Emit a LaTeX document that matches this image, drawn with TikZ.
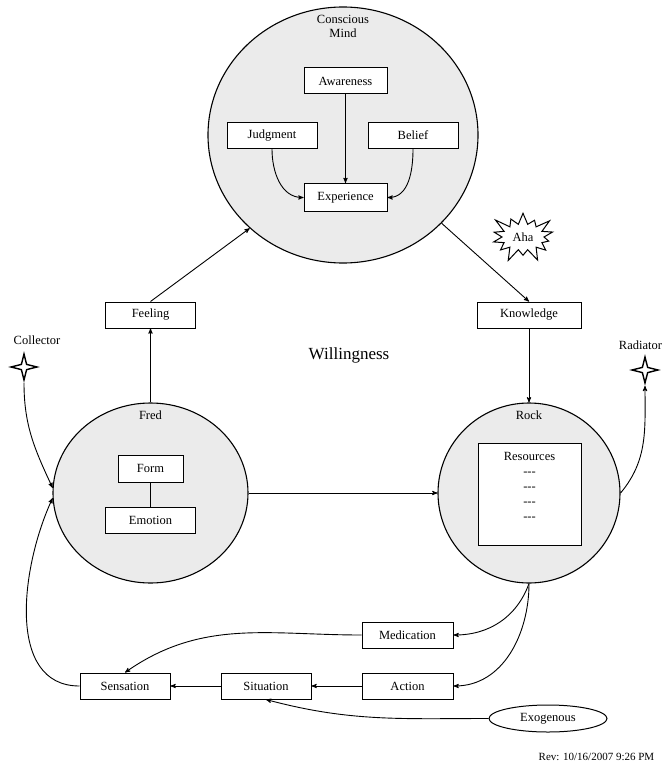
\documentclass[tikz,border=0pt]{standalone}
\usepackage{fontspec}
\setmainfont{Liberation Serif}
\usetikzlibrary{positioning,shapes,arrows}

\begin{document}
\begin{tikzpicture}[
    x=1pt,y=-1pt,
    ->,>=stealth',line width=0.9pt,
    node distance=2cm,on grid,
    every node/.style={font=\fontsize{12.5}{14}\selectfont},
    box/.style={draw,rectangle,fill=white,line width=1pt,minimum width=90pt,minimum height=26pt,inner sep=1pt},
    blob/.style={draw,ellipse,fill=black!8,line width=1.1pt,inner sep=0pt},
    blobname/.style={anchor=north,yshift=-7pt,inner sep=1pt,align=center},
    spark/.style={draw,star,star points=4,star point ratio=3.5,minimum size=26pt,inner sep=0pt,line width=1.4pt,fill=white}
  ]
  \useasboundingbox (0,0) rectangle (662,770);
  \node[blob,minimum width=270pt,minimum height=256pt,label={[blobname]north:{Conscious\\Mind}}] (mind) at (343,135) {};
  \node[box,minimum width=83pt,minimum height=28pt] (exp) at (345.5,197.5) {Experience};
  \node[box,minimum width=83pt] (aware) [above=116.5pt of exp] {Awareness};
  \node[box] (judg) [above left=62pt and 73.5pt of exp] {Judgment};
  \node[box] (belief) [above right=62pt and 67.5pt of exp] {Belief};
  \node[blob,minimum width=195pt,minimum height=180pt,label={[blobname]north:Fred}] (fred) at (150.5,493) {};
  \node[blob,minimum width=182pt,minimum height=180pt,label={[blobname]north:Rock}] (rock) at (529,493) {};
  \node[box,minimum width=65pt,minimum height=27pt] (form) [above=24.5pt of fred] {Form};
  \node[box] (emotion) [below=27pt of fred] {Emotion};
  \node[box,minimum width=103pt,minimum height=102pt] (res) at (529.5,494) {};
  \node[anchor=north,align=center,inner sep=0pt,font=\fontsize{12.5}{15}\selectfont] (reslist) at ([yshift=-9pt]res.north)
        {Resources\\-{}-{}-\\-{}-{}-\\-{}-{}-\\-{}-{}-};
  \node[box] (feeling) [above=178pt of fred] {Feeling};
  \node[box,minimum width=104pt] (know) [above=178pt of rock] {Knowledge};
  \node[font=\fontsize{17}{20}\selectfont] (will) at (349,355) {Willingness};
  \node[starburst,draw,fill=white,line width=1pt,minimum width=72pt,minimum height=56pt,starburst points=14,starburst point height=15pt,inner sep=0pt] (aha) at (523,237) {Aha};
  \node (coll) at (37,340) {Collector};
  \node[spark] (cstar) at (24,367) {};
  \node (rad) at (640.5,345) {Radiator};
  \node[spark] (rstar) at (645,370) {};
  \node[box] (sens) at (125,686) {Sensation};
  \node[box] (situ) [right=141pt of sens] {Situation};
  \node[box,minimum width=91pt] (act) [right=141.5pt of situ] {Action};
  \node[box,minimum width=91pt] (med) [above=51pt of act] {Medication};
  \node[draw,ellipse,line width=1pt,minimum width=118pt,minimum height=27pt,inner sep=0pt] (exo) at (548,718.5) {Exogenous};
  \node[anchor=east,font=\fontsize{11}{13}\selectfont] (rev) at (658,757) {Rev: 10/16/2007 9:26 PM};
  \path (aware) edge (exp)
  (judg.south) edge [out=-90,in=180] (exp.west)
  (belief.south) edge [out=-90,in=0] (exp.east)
  (mind) edge (know.north)
  (know) edge (rock)
  (fred.north) edge (feeling.south)
  (feeling.north) edge (mind.225)
  (fred) edge (rock)
  (form) edge [-] (emotion)
  (rock.south) edge [out=-110,in=0] (med.east)
  edge [out=-90,in=0] (act.east)
  (med) edge [out=180,in=35] (sens.north)
  (act) edge (situ)
  (situ) edge (sens)
  (exo) edge [out=180,in=-15] (situ.south)
  (sens) edge [out=180,in=-115] (fred.183)
  (cstar) edge [out=-90,in=115] (fred.177)
  (rock.east) edge [out=50,in=-90] (rstar);
\end{tikzpicture}
\end{document}
